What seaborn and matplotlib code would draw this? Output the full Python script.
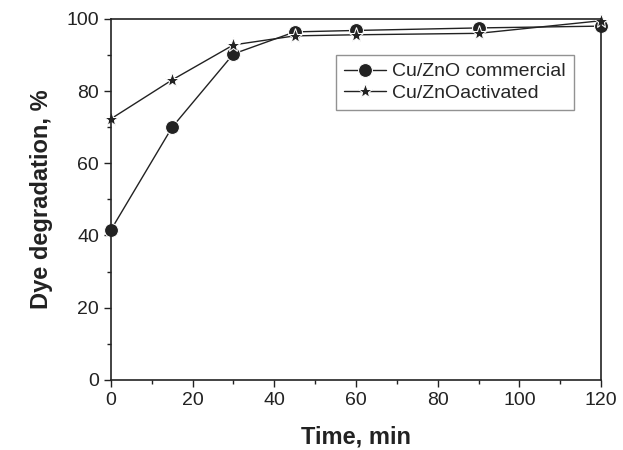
import matplotlib
matplotlib.use("Agg")
import matplotlib.pyplot as plt
import seaborn as sns
import pandas as pd
from matplotlib.ticker import MultipleLocator

# data
time_min = [0, 15, 30, 45, 60, 90, 120]
commercial = [41.5, 70.0, 90.3, 96.4, 96.8, 97.5, 98.0]
activated = [72.3, 83.1, 92.8, 95.3, 95.6, 96.0, 99.5]

sns.set_style("ticks")
plt.rcParams['font.family'] = ['Liberation Sans', 'DejaVu Sans']

df = pd.DataFrame({
    "Time": time_min * 2,
    "Degradation": commercial + activated,
    "Sample": ["Cu/ZnO commercial"] * len(time_min) + ["Cu/ZnOactivated"] * len(time_min),
})

fig = plt.figure(figsize=(6.23, 4.5), dpi=100)
ax = fig.add_axes([0.178, 0.156, 0.787, 0.802])

sns.lineplot(data=df, x="Time", y="Degradation", hue="Sample", style="Sample",
             markers={"Cu/ZnO commercial": "o", "Cu/ZnOactivated": "*"},
             dashes=False, palette=["#222222", "#222222"],
             markersize=10, linewidth=1, ax=ax, clip_on=False)

# the two marker sizes differ in the reference
for line, ms in zip(ax.lines[:2], [10, 11]):
    line.set_markersize(ms)

ax.set_xlim(0, 120)
ax.set_ylim(0, 100)
ax.xaxis.set_major_locator(MultipleLocator(20))
ax.xaxis.set_minor_locator(MultipleLocator(10))
ax.yaxis.set_major_locator(MultipleLocator(20))
ax.yaxis.set_minor_locator(MultipleLocator(10))
ax.tick_params(which="major", direction="out", length=5, width=1, labelsize=14, colors="#222222")
ax.tick_params(which="minor", direction="out", length=3, width=1, colors="#222222")
for sp in ax.spines.values():
    sp.set_visible(True)
    sp.set_linewidth(1.2)
    sp.set_color("#222222")

ax.set_xlabel("Time, min", fontsize=17, fontweight="bold", labelpad=12, color="#222222")
ax.set_ylabel("Dye degradation, %", fontsize=17, fontweight="bold", labelpad=10, color="#222222")

handles, labels = ax.get_legend_handles_labels()
for h, ms in zip(handles, [10, 11]):
    h.set_markersize(ms)
leg = ax.legend(handles, labels, loc="upper left", bbox_to_anchor=(0.459, 0.9),
                borderaxespad=0, fontsize=14, frameon=True, fancybox=False,
                handlelength=2.2, borderpad=0.4, labelspacing=0.2, handletextpad=0.3)
leg.get_frame().set_edgecolor("#777777")
leg.get_frame().set_linewidth(1)

fig.savefig("out.png", dpi=100)
